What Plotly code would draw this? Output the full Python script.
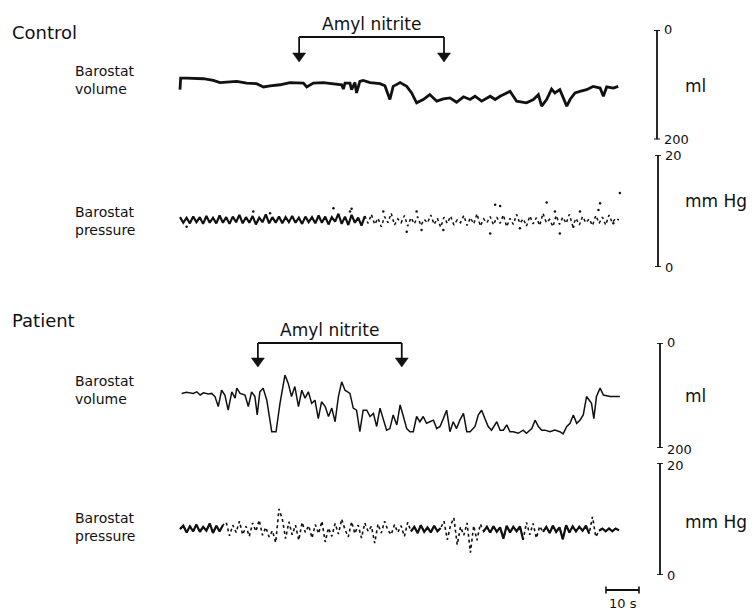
import plotly.graph_objects as go

W, H = 755, 611

# ---------------------------------------------------------------- data
# Control subject: barostat volume (time in s, volume in ml)
ctrl_vol_t = [0, 0.2, 2.0, 7.1, 10.1, 12.1, 17.2, 20.2, 23.2, 25.3, 27.3, 30.3, 33.3, 37.4, 38.4,
              40.4, 43.4, 46.5, 49.0, 49.5, 50.0, 51.5, 52.0, 53.0, 53.5, 54.5, 55.5, 57.6, 60.6,
              62.1, 63.6, 64.6, 66.7, 68.7, 70.2, 71.7, 73.7, 75.7, 77.8, 79.8, 81.8, 83.8, 85.9,
              87.9, 89.4, 91.4, 94.0, 95.5, 97.0, 99.0, 100.0, 102.0, 105.0, 107.1, 108.6, 109.6,
              111.1, 112.6, 113.6, 115.1, 117.2, 118.2, 119.7, 121.2, 123.2, 125.2, 127.3, 128.3,
              129.3, 131.3, 132.8]
ctrl_vol_ml = [109, 88, 88, 89, 92, 96, 94, 97, 98, 104, 102, 100, 96, 97, 104,
               97, 96, 98, 100, 108, 97, 97, 109, 96, 115, 94, 92, 96, 98,
               102, 127, 103, 96, 103, 115, 133, 127, 118, 130, 126, 124, 132, 122,
               127, 121, 130, 121, 127, 121, 115, 112, 130, 133, 127, 118, 139,
               127, 108, 115, 109, 139, 127, 115, 112, 109, 103, 106, 121,
               104, 106, 103]

# Control subject: barostat pressure, 1 s samples (mm Hg)
ctrl_pres_mmhg = [8.9, 7.9, 8.8, 7.8, 9.0, 8.0, 8.9, 7.7, 9.1, 7.9, 8.8,
                  7.8, 9.2, 7.9, 8.9, 7.7, 9.0, 8.0, 9.3, 7.8, 8.9,
                  7.9, 9.1, 7.6, 8.8, 8.0, 9.4, 7.8, 8.9, 7.9, 9.0,
                  7.8, 8.9, 8.0, 9.1, 7.9, 8.8, 7.7, 9.0, 8.0, 8.9,
                  7.8, 9.2, 7.9, 9.0, 7.6, 8.9, 8.1, 9.5, 7.7, 9.0,
                  7.5, 9.3, 7.9, 8.8, 7.4, 9.1,
                  7.8, 9.4, 7.6, 8.7, 7.2, 9.0, 7.9, 9.6, 7.5, 8.6,
                  7.9, 9.2, 7.3, 8.8, 7.7, 9.0, 7.4, 8.5, 7.9, 9.3,
                  7.6, 8.7, 7.1, 8.9, 7.8, 9.1, 7.5, 8.4, 7.9, 9.2,
                  7.4, 8.8, 7.7, 9.5, 7.3, 8.6, 7.9, 9.0, 7.5, 8.9,
                  7.8, 9.3, 7.2, 8.7, 7.6, 9.4, 7.8, 8.6, 7.3, 9.1,
                  7.7, 8.8, 7.4, 9.6, 7.9, 8.5, 7.2, 9.2, 7.6, 8.9,
                  7.8, 9.4, 7.3, 8.7, 7.5, 9.0, 7.9, 8.6, 7.4, 9.2,
                  7.8, 8.9, 7.5, 9.3, 7.9, 8.7, 8.4]
# isolated pressure excursions of the control record (s, mm Hg)
ctrl_spot_t = [2.0, 22.2, 27.3, 46.5, 51.5, 52.0, 61.6, 68.7, 71.7, 73.2, 79.8, 94.0, 95.5,
               97.0, 103.0, 111.1, 113.6, 115.1, 119.2, 121.2, 126.8, 127.3, 131.3, 133.3]
ctrl_spot_mmhg = [7.2, 9.9, 9.6, 10.5, 9.9, 10.4, 9.9, 6.3, 9.9, 6.6, 6.6, 6.0, 11.1,
                  10.9, 6.9, 11.5, 9.9, 6.0, 7.2, 9.9, 10.2, 11.4, 7.8, 13.2]

# Patient: barostat volume (time in s, volume in ml)
pat_vol_t = [0.5, 2.0, 4.0, 5.1, 6.1, 7.1, 8.6, 9.6, 10.6, 11.6, 12.6, 13.6, 14.6, 15.7, 16.7,
             17.2, 18.2, 19.7, 20.7, 21.7, 22.7, 23.4, 24.2, 25.2, 26.3, 27.3, 27.8, 29.1, 30.3,
             31.8, 32.8, 33.8, 34.8, 35.9, 36.9, 37.9, 38.9, 39.9, 40.9, 41.9, 42.9, 44.0, 45.0,
             46.0, 47.0, 48.0, 49.0, 50.0, 51.5, 52.5, 53.5, 54.5, 55.5, 56.6, 57.6, 58.6, 59.6,
             60.6, 61.6, 62.6, 63.6, 64.6, 65.7, 66.7, 67.7, 68.7, 69.7, 70.7, 71.7, 72.7, 73.7,
             74.7, 75.7, 76.8, 77.8, 78.8, 79.8, 80.8, 81.8, 82.8, 83.8, 84.8, 85.9, 86.9, 87.9,
             89.4, 90.4, 91.4, 92.4, 93.4, 94.4, 96.0, 97.0, 98.0, 99.0, 100.0, 101.0, 102.5,
             104.0, 105.0, 106.6, 107.6, 108.6, 109.6, 110.6, 112.1, 113.6, 115.1, 116.1, 117.2,
             118.2, 119.2, 120.2, 121.2, 122.2, 123.2, 124.7, 125.4, 126.2, 127.3, 128.3, 130.3,
             133.3]
pat_vol_ml = [96, 94, 96, 93, 99, 95, 97, 96, 102, 121, 90, 99, 128, 93, 105,
              86, 96, 99, 121, 93, 102, 137, 93, 86, 109, 147, 169, 169, 115,
              61, 77, 102, 83, 121, 90, 105, 93, 115, 109, 144, 112, 121, 140,
              124, 150, 102, 74, 90, 96, 124, 128, 169, 128, 128, 140, 134, 159,
              124, 144, 166, 163, 137, 156, 118, 140, 163, 169, 169, 140, 150, 140,
              153, 150, 147, 163, 159, 144, 128, 169, 150, 163, 147, 134, 169, 169,
              159, 137, 128, 144, 159, 166, 150, 166, 166, 156, 169, 169, 172,
              166, 172, 163, 147, 159, 166, 166, 169, 166, 169, 173, 159,
              153, 137, 153, 147, 137, 102, 115, 144, 102, 86, 99, 102,
              102]

# Patient: barostat pressure, 1 s samples (mm Hg)
pat_pres_mmhg = [8.2, 8.8, 7.6, 8.7, 7.8, 9.0, 7.7, 8.6, 7.9, 9.2, 7.5, 8.8, 7.8, 8.9,
                 9.4, 7.0, 8.9, 7.6, 9.6, 7.2, 8.7, 6.9, 9.3, 7.8, 9.8, 7.1, 8.5, 6.8, 7.9, 5.8,
                 11.8, 10.0, 6.5, 9.5, 7.2, 8.9, 6.2, 9.4, 7.6, 8.8, 6.6, 9.0, 7.4, 9.6, 5.9,
                 8.4, 6.9, 9.2, 7.3, 10.0,
                 8.1, 6.8, 9.5, 7.4, 8.9, 6.6, 9.3, 7.8, 8.7, 5.7, 9.1, 7.5, 9.6, 8.0, 7.2,
                 9.0, 7.6, 8.8, 6.9, 9.4, 7.8, 8.6, 7.5, 8.9, 7.7, 8.5, 7.6, 8.8, 7.8, 8.4,
                 9.6, 6.3, 8.9, 10.2, 5.4, 8.6, 7.1, 9.3, 4.0, 8.8, 6.2, 9.1,
                 7.8, 8.6, 7.6, 8.7, 7.7, 8.5, 6.5, 8.8, 7.6, 8.6, 7.8, 8.7, 6.3,
                 9.4, 7.2, 9.2, 6.6, 8.7, 7.7, 8.6, 7.5, 8.8, 7.7, 8.5, 6.4, 8.9, 7.6, 8.7,
                 7.8, 8.6, 7.9, 8.8, 7.4, 10.4, 6.8,
                 7.9, 8.3, 7.8, 8.3, 7.8, 8.3, 8.0]

# Amyl nitrite inhalation: start and end of the bracket (s)
ctrl_amyl_s = [36.1, 80.0]
pat_amyl_s = [23.6, 67.2]

# calibration bars
vol_scale_ml = [0, 200]
pres_scale_mmhg = [0, 20]
time_bar_s = 10

# ---------------------------------------------------------------- geometry
X0_PX = 180.0        # pixel column of t = 0
PX_PER_S = 3.3       # horizontal scale of the recordings
INK = "#111111"
FONT = "DejaVu Sans"


def py(px):
    """paper y-coordinate of a pixel row"""
    return 1 - px / H


def pxs(px):
    """paper x-coordinate of a pixel column"""
    return px / W


ctrl_pres_t = [float(i) for i in range(len(ctrl_pres_mmhg))]
pat_pres_t = [float(i) for i in range(len(pat_pres_mmhg))]


def window(t, v, lo, hi):
    return [val if lo <= tt <= hi else None for tt, val in zip(t, v)]


fig = go.Figure()

# --- control volume
fig.add_trace(go.Scatter(x=ctrl_vol_t, y=ctrl_vol_ml, mode="lines", yaxis="y",
                         line=dict(color=INK, width=2.8), hoverinfo="skip"))

# --- control pressure: dense part solid, later part speckled
fig.add_trace(go.Scatter(x=ctrl_pres_t, y=window(ctrl_pres_t, ctrl_pres_mmhg, 0, 56),
                         mode="lines", yaxis="y2", connectgaps=False,
                         line=dict(color=INK, width=2.2), hoverinfo="skip"))
fig.add_trace(go.Scatter(x=ctrl_pres_t, y=window(ctrl_pres_t, ctrl_pres_mmhg, 56, 200),
                         mode="lines", yaxis="y2", connectgaps=False,
                         line=dict(color=INK, width=1.5, dash="dot"), hoverinfo="skip"))
fig.add_trace(go.Scatter(x=ctrl_spot_t, y=ctrl_spot_mmhg, mode="markers", yaxis="y2",
                         marker=dict(color=INK, size=2.5), hoverinfo="skip"))

# --- patient volume
fig.add_trace(go.Scatter(x=pat_vol_t, y=pat_vol_ml, mode="lines", yaxis="y3",
                         line=dict(color=INK, width=1.5), hoverinfo="skip"))

# --- patient pressure: speckled overall, dense stretches solid
fig.add_trace(go.Scatter(x=pat_pres_t, y=pat_pres_mmhg, mode="lines", yaxis="y4",
                         line=dict(color=INK, width=1.6, dash="dot"), hoverinfo="skip"))
for lo, hi in [(0, 13), (70, 79), (92, 104), (110, 124), (127, 133)]:
    fig.add_trace(go.Scatter(x=pat_pres_t, y=window(pat_pres_t, pat_pres_mmhg, lo, hi),
                             mode="lines", yaxis="y4", connectgaps=False,
                             line=dict(color=INK, width=2.2), hoverinfo="skip"))

shapes = []
annotations = []


def text(s, xpx, ypx, size, anchor="left"):
    annotations.append(dict(text=s, x=pxs(xpx), y=py(ypx), xref="paper", yref="paper",
                            xanchor=anchor, yanchor="middle", showarrow=False,
                            font=dict(family=FONT, size=size, color=INK), align="left"))


# --- row titles and channel labels
text("Control", 10, 33, 18)
text("Barostat<br>volume", 73, 80, 14)
text("Barostat<br>pressure", 73, 221, 14)
text("Patient", 10, 320, 18)
text("Barostat<br>volume", 73, 390, 14)
text("Barostat<br>pressure", 73, 527, 14)


# --- amyl nitrite brackets
def bracket(events, bar_px, tip_px, label_px):
    a, b = events
    hw = 6.5 / PX_PER_S
    head_px = tip_px - 9
    shapes.append(dict(type="line", xref="x", yref="paper", x0=a, x1=b,
                       y0=py(bar_px), y1=py(bar_px), line=dict(color=INK, width=1.8)))
    for e in events:
        shapes.append(dict(type="line", xref="x", yref="paper", x0=e, x1=e,
                           y0=py(bar_px), y1=py(head_px), line=dict(color=INK, width=1.8)))
        shapes.append(dict(type="path", xref="x", yref="paper",
                           path=f"M {e - hw},{py(head_px)} L {e + hw},{py(head_px)} "
                                f"L {e},{py(tip_px)} Z",
                           fillcolor=INK, line=dict(color=INK, width=0.5)))
    annotations.append(dict(text="Amyl nitrite", x=(a + b) / 2, y=py(label_px),
                            xref="x", yref="paper", xanchor="center", yanchor="middle",
                            showarrow=False, font=dict(family=FONT, size=17, color=INK)))


bracket(ctrl_amyl_s, 37, 62, 24)
bracket(pat_amyl_s, 343, 367, 330)


# --- vertical calibration bars
def cal_bar(yref, scale, xpx, top_label, bottom_label, unit, unit_px, top_shift, bot_shift):
    lo, hi = scale
    xb = pxs(xpx)
    shapes.append(dict(type="line", xref="paper", yref=yref, x0=xb, x1=xb, y0=lo, y1=hi,
                       line=dict(color=INK, width=1.8)))
    for v in scale:
        shapes.append(dict(type="line", xref="paper", yref=yref, x0=pxs(xpx - 3),
                           x1=pxs(xpx + 3), y0=v, y1=v, line=dict(color=INK, width=1.8)))
    top_v, bot_v = top_label
    annotations.append(dict(text=str(top_v), x=pxs(xpx + 5), y=top_v, xref="paper", yref=yref,
                            xanchor="left", yanchor="middle", showarrow=False, yshift=top_shift,
                            font=dict(family=FONT, size=13, color=INK)))
    annotations.append(dict(text=str(bottom_label), x=pxs(xpx + 5), y=bot_v, xref="paper",
                            yref=yref, xanchor="left", yanchor="middle", showarrow=False,
                            yshift=bot_shift, font=dict(family=FONT, size=13, color=INK)))
    text(unit, 683, unit_px, 17)


cal_bar("y", vol_scale_ml, 657, (0, 200), 200, "ml", 86, 1, 0)
cal_bar("y2", pres_scale_mmhg, 658, (20, 0), 0, "mm\u00a0Hg", 201, 0, 0)
cal_bar("y3", vol_scale_ml, 660, (0, 200), 200, "ml", 396, 1, -1)
cal_bar("y4", pres_scale_mmhg, 660, (20, 0), 0, "mm\u00a0Hg", 522, -2, 0)

# --- 10 s time bar
tb0 = (606 - X0_PX) / PX_PER_S
shapes.append(dict(type="line", xref="x", yref="paper", x0=tb0, x1=tb0 + time_bar_s,
                   y0=py(590), y1=py(590), line=dict(color=INK, width=1.8)))
for e in (tb0, tb0 + time_bar_s):
    shapes.append(dict(type="line", xref="x", yref="paper", x0=e, x1=e,
                       y0=py(586.5), y1=py(593.5), line=dict(color=INK, width=1.6)))
annotations.append(dict(text=f"{time_bar_s} s", x=tb0 + time_bar_s / 2, y=py(603),
                        xref="x", yref="paper", xanchor="center", yanchor="middle",
                        showarrow=False, font=dict(family=FONT, size=13, color=INK)))

hidden = dict(visible=False, showgrid=False, zeroline=False, fixedrange=True)

fig.update_layout(
    width=W, height=H,
    margin=dict(l=0, r=0, t=0, b=0),
    paper_bgcolor="white", plot_bgcolor="rgba(0,0,0,0)",
    showlegend=False,
    xaxis=dict(domain=[0, 1], range=[-X0_PX / PX_PER_S, (W - X0_PX) / PX_PER_S], **hidden),
    yaxis=dict(domain=[py(139.5), py(30)], range=[200, 0], **hidden),
    yaxis2=dict(domain=[py(267), py(155)], range=[0, 20], **hidden),
    yaxis3=dict(domain=[py(448), py(343)], range=[200, 0], **hidden),
    yaxis4=dict(domain=[py(575), py(463)], range=[0, 20], **hidden),
    shapes=shapes,
    annotations=annotations,
)

fig.write_html("out.html", config=dict(displayModeBar=False))
